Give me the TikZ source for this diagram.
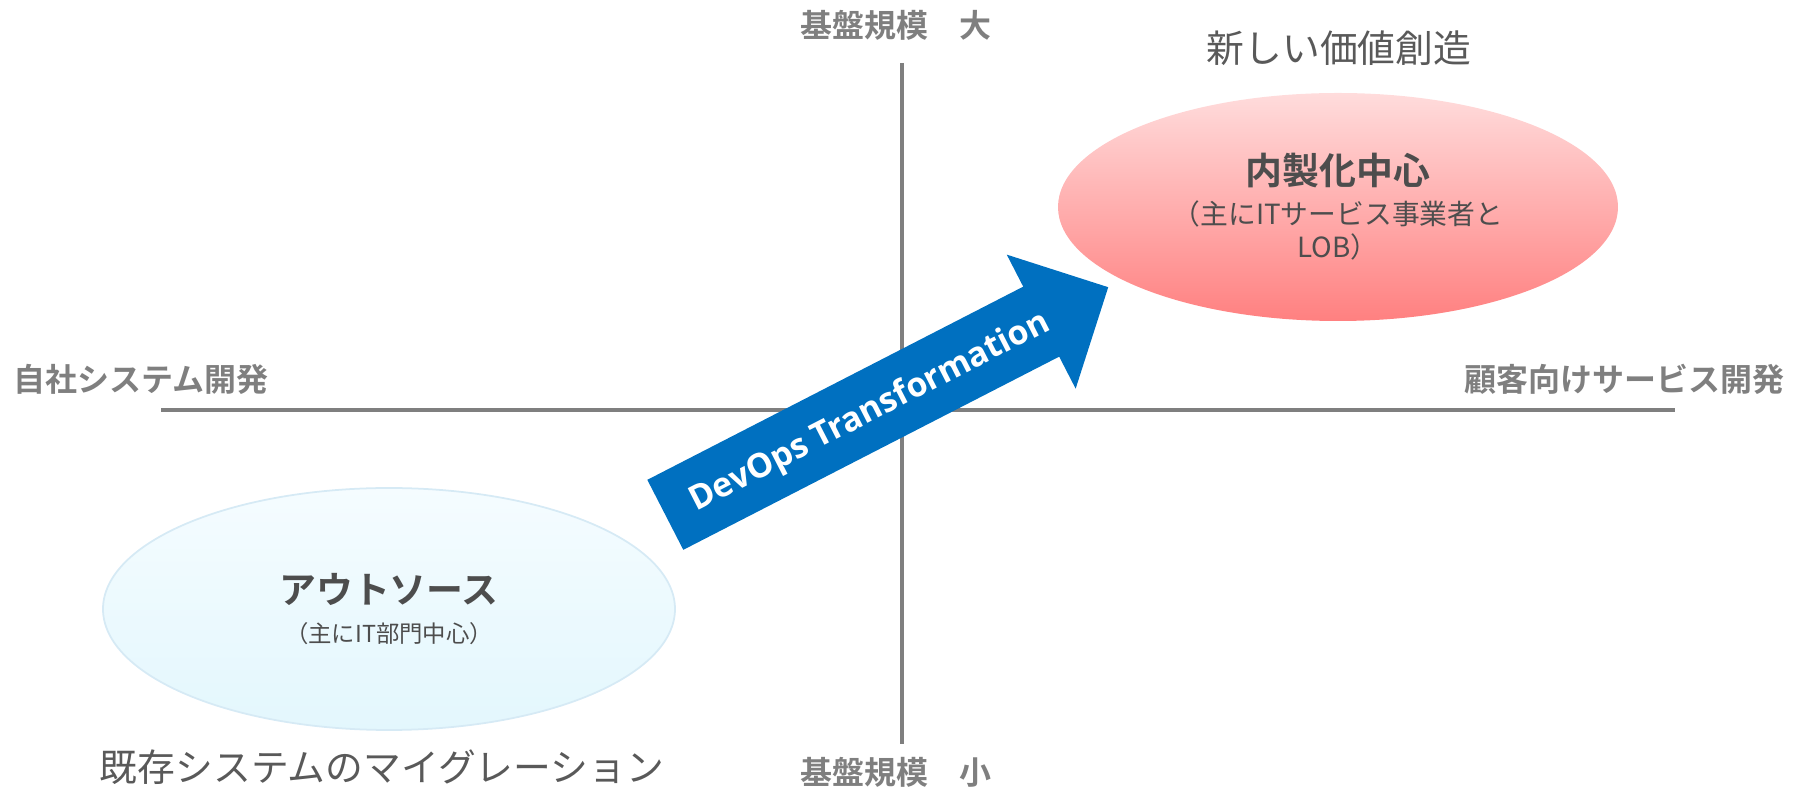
\documentclass[tikz,border=0pt]{standalone}
\usepackage{fontspec}
\setmainfont{Noto Sans CJK JP}[BoldFont={Noto Sans CJK JP Bold}]
\newfontfamily\arrowfont{Open Sans}
\usetikzlibrary{shapes.geometric,shapes.arrows}
\definecolor{axisgray}{HTML}{7F7F7F}
\definecolor{textgray}{HTML}{4D4D4D}
\definecolor{captiongray}{HTML}{595959}
\definecolor{pinktop}{HTML}{FFDCDC}
\definecolor{pinkbottom}{HTML}{FF8080}
\definecolor{icetop}{HTML}{F5FCFF}
\definecolor{icebottom}{HTML}{E3F7FD}
\definecolor{iceedge}{HTML}{D6EAF5}
\definecolor{devblue}{HTML}{0070C0}
\begin{document}
\begin{tikzpicture}[
        axis/.style={draw=axisgray, line width=2pt},
        axislabel/.style={text=axisgray, font=\bfseries\fontsize{18.2}{20}\selectfont, inner sep=0pt},
        caption/.style={text=captiongray, font=\fontsize{21.5}{24}\selectfont, inner sep=0pt},
        blob/.style={ellipse, text=textgray, align=center, inner sep=0pt, font=\fontsize{15.8}{18.7}\selectfont},
        transform/.style={single arrow, fill=devblue, text=white, inner sep=0pt, single arrow head extend=0.72cm, font=\arrowfont\bfseries\fontsize{19.2}{20}\selectfont}
    ]
        \useasboundingbox (0,0) rectangle (36.02,15.82);

        % Axes
        \coordinate (top) at (18.04,14.56);
        \coordinate (bottom) at (18.04,0.94);
        \coordinate (left) at (3.22,7.62);
        \coordinate (right) at (33.5,7.62);
        \draw[axis] (top) -- (bottom);
        \draw[axis] (left) -- (right);

        % Axis labels
        \node[axislabel] (large) at (17.92,15.32) {基盤規模　大};
        \node[axislabel] (small) at (17.92,0.38) {基盤規模　小};
        \node[axislabel, anchor=west] (internal) at (0.26,8.24) {自社システム開発};
        \node[axislabel, anchor=east] (customer) at (35.7,8.24) {顧客向けサービス開発};

        % Ellipses
        \node[blob, minimum width=11.2cm, minimum height=4.56cm, top color=pinktop, bottom color=pinkbottom] (inhouse) at (26.76,11.68)
            {{\bfseries\fontsize{21}{27}\selectfont 内製化中心}\\[4pt]（主にITサービス事業者と\\LOB）};
        \node[blob, minimum width=11.44cm, minimum height=4.84cm, draw=iceedge, line width=1pt, top color=icetop, bottom color=icebottom] (outsource) at (7.78,3.64)
            {{\bfseries\fontsize{21}{27}\selectfont アウトソース}\\[3pt]{\fontsize{13.3}{14}\selectfont （主にIT部門中心）}};

        % Captions
        \node[caption] (newvalue) at (26.78,14.86) {新しい価値創造};
        \node[caption] (migration) at (7.64,0.48) {既存システムのマイグレーション};

        % Arrow
        \node[transform, minimum width=3cm, minimum height=9.96cm, rotate=27.2, anchor=tail] (devops) at (13.3,5.52) {\rule[-0.55cm]{0pt}{1.56cm}DevOps Transformation};
    \end{tikzpicture}
\end{document}
